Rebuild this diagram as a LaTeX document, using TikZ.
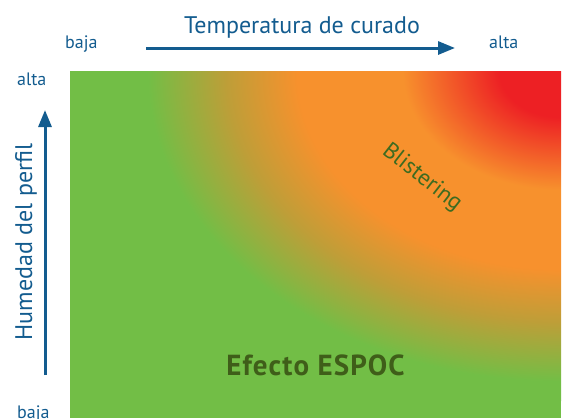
\documentclass[tikz,border=0pt]{standalone}
\usepackage{fontspec}
\setmainfont{PT Sans}
\usetikzlibrary{arrows.meta}
\definecolor{hgreen}{RGB}{114,190,70}
\definecolor{holive}{RGB}{190,158,56}
\definecolor{horange}{RGB}{247,145,45}
\definecolor{hred}{RGB}{237,32,36}
\definecolor{axisblue}{RGB}{19,92,143}
\definecolor{blistgreen}{RGB}{62,107,32}
\definecolor{espocgreen}{RGB}{63,94,25}
\pgfdeclareradialshading{heat}{\pgfpoint{0bp}{0bp}}{color(0bp)=(hred); color(3.5bp)=(hred); color(9bp)=(horange); color(15bp)=(horange); color(19bp)=(holive); color(23.5bp)=(hgreen); color(50bp)=(hgreen)}
\tikzset{
  axislabel/.style={text=axisblue, inner sep=0pt, font=\fontsize{18}{18}\selectfont},
  axistitle/.style={text=axisblue, inner sep=0pt, font=\fontsize{24}{24}\selectfont},
  axisarrow/.style={draw=axisblue, line width=3pt, -{Triangle[length=17pt,width=13pt]}},
}
\begin{document}
\begin{tikzpicture}[x=1pt,y=-1pt]
\useasboundingbox (0,0) rectangle (565,418);
% heat map
\begin{scope}
\clip (70,71) rectangle (561,418);
\fill[hgreen] (70,71) rectangle (561,418);
\shade[shading=heat] (561,71) ellipse [x radius=440, y radius=330];
\end{scope}
% axis texts
\node[axistitle, anchor=base] (title) at (302,33) {Temperatura de curado};
\node[axislabel, anchor=base west] (bajaT) at (65,48) {baja};
\node[axislabel, anchor=base west] (altaT) at (489,48) {alta};
\node[axislabel, anchor=base west] (altaL) at (17,85) {alta};
\node[axislabel, anchor=base west] (bajaL) at (17,418) {baja};
\node[axistitle, anchor=base, rotate=90] (hum) at (32,242) {Humedad del perfil};
% arrows
\coordinate (hs) at (146,48);
\coordinate (he) at (455,48);
\coordinate (vs) at (45,375);
\coordinate (ve) at (45,110);
\draw[axisarrow] (hs) -- (he);
\draw[axisarrow] (vs) -- (ve);
% region labels
\node[text=blistgreen, inner sep=0pt, rotate=-38, font=\fontsize{23}{23}\selectfont] (blist) at (422,178) {Blistering};
\node[text=espocgreen, inner sep=0pt, anchor=base, font=\bfseries\fontsize{29}{29}\selectfont\addfontfeature{LetterSpace=4}] (espoc) at (315.5,375) {Efecto ESPOC};
\end{tikzpicture}
\end{document}
